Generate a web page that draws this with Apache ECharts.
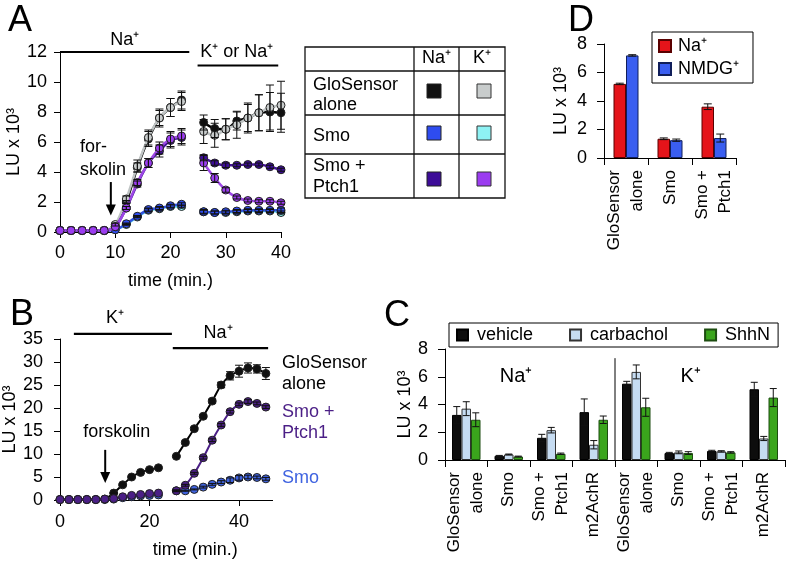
<!DOCTYPE html>
<html><head><meta charset="utf-8">
<script src="https://cdn.jsdelivr.net/npm/echarts@6/dist/echarts.min.js"></script>
<style>html,body{margin:0;padding:0;background:#fff}#c{width:796px;height:562px}</style>
</head><body><div id="c"></div>
<script>
// ---------- Panel A data ----------
const aTime1 = [0,2,4,6,8,10,12,14,16,18,20,22];
const aTime2 = [26,28,30,32,34,36,38,40];
const aGloNa1 = [0.1,0.1,0.1,0.1,0.1,0.4,2.0,4.3,6.2,7.6,8.3,8.8];
const aGloNa2 = [7.3,6.9,6.85,7.4,7.6,7.95,8.0,7.95];
const aGloNaErr1 = [0,0,0,0,0,0,0.1,0.3,0.5,0.5,0.6,0.6];
const aGloNaErr2 = [0.5,0.6,0.7,0.6,0.9,1.2,1.3,1.3];
const aGloK1 = [0.1,0.1,0.1,0.1,0.1,0.5,2.2,4.4,6.3,7.6,8.3,8.7];
const aGloK2 = [6.7,6.45,6.85,7.15,7.6,7.95,8.3,8.45];
const aGloKErr1 = [0,0,0,0,0,0.1,0.2,0.4,0.5,0.6,0.6,0.6];
const aGloKErr2 = [0.8,0.8,0.7,0.9,1.0,1.2,1.5,1.6];
const aSmoNa1 = [0.1,0.1,0.1,0.1,0.1,0.15,0.55,1.05,1.5,1.6,1.75,1.85];
const aSmoNa2 = [1.35,1.3,1.35,1.4,1.45,1.45,1.45,1.45];
const aSmoNaErr1 = [0,0,0,0,0,0,0.05,0.05,0.1,0.1,0.1,0.1];
const aSmoNaErr2 = [0.15,0.1,0.1,0.1,0.1,0.1,0.1,0.15];
const aSmoK1 = [0.1,0.1,0.1,0.1,0.1,0.15,0.5,1.0,1.45,1.55,1.7,1.7];
const aSmoK2 = [1.35,1.3,1.3,1.35,1.4,1.4,1.4,1.3];
const aSmoKErr1 = [0,0,0,0,0,0,0.05,0.05,0.1,0.1,0.1,0.1];
const aSmoKErr2 = [0.1,0.1,0.1,0.1,0.1,0.1,0.1,0.1];
const aPtcNa1 = [0.1,0.1,0.1,0.1,0.1,0.35,1.6,3.2,4.6,5.4,6.1,6.3];
const aPtcNa2 = [4.95,4.6,4.45,4.45,4.5,4.5,4.35,4.15];
const aPtcNaErr1 = [0,0,0,0,0,0,0.1,0.2,0.3,0.4,0.5,0.5];
const aPtcNaErr2 = [0.2,0.15,0.15,0.1,0.1,0.1,0.1,0.1];
const aPtcK1 = [0.1,0.1,0.1,0.1,0.1,0.35,1.6,3.3,4.6,5.6,6.2,6.4];
const aPtcK2 = [4.6,3.6,2.8,2.3,2.1,2.05,2.05,1.95];
const aPtcKErr1 = [0,0,0,0,0,0,0.1,0.2,0.3,0.4,0.5,0.5];
const aPtcKErr2 = [0.5,0.3,0.15,0.1,0.1,0.1,0.1,0.1];
const aXTicks = [0,10,20,30,40];

// ---------- Panel B data ----------
const bTime1 = [0,2,4,6,8,10,12,14,16,18,20,22];
const bTime2 = [26,28,30,32,34,36,38,40,42,44,46];
const bGlo1 = [0.1,0.1,0.1,0.1,0.1,0.2,1.5,3.3,5.0,6.0,6.6,7.0];
const bGlo2 = [9.5,12.5,15.5,18.2,21.5,25.0,27.0,28.0,28.7,28.5,27.5];
const bGloErr1 = [0,0,0,0,0,0,0.1,0.2,0.2,0.2,0.2,0.2];
const bGloErr2 = [0.2,0.3,0.3,0.3,0.4,0.6,0.9,1.3,1.1,0.9,1.3];
const bPtc1 = [0.1,0.1,0.1,0.1,0.1,0.2,0.3,0.7,1.0,1.2,1.4,1.5];
const bPtc2 = [2.0,3.2,5.8,9.2,13.0,16.3,19.2,20.8,21.4,21.0,20.2];
const bPtcErr2 = [0.2,0.2,0.2,0.3,0.3,0.3,0.3,0.3,0.4,0.3,0.3];
const bSmo1 = [0.1,0.1,0.1,0.1,0.1,0.1,0.2,0.5,0.7,0.9,1.0,1.1];
const bSmo2 = [2.0,2.0,2.3,2.8,3.4,3.9,4.3,4.8,5.0,4.9,4.6];
const bSmoErr2 = [0.1,0.1,0.1,0.2,0.2,0.3,0.5,0.5,0.4,0.3,0.3];

// ---------- Panel C data ----------
const cCategories = ['Na-Glo','Na-Smo','Na-SmoPtch1','Na-m2AchR','K-Glo','K-Smo','K-SmoPtch1','K-m2AchR'];
const cTickLabels = ['GloSensor\nalone','Smo','Smo +\nPtch1','m2AchR','GloSensor\nalone','Smo','Smo +\nPtch1','m2AchR'];
const cVehicle = [3.25,0.3,1.6,3.45,5.5,0.5,0.65,5.1];
const cVehicleErr = [0.6,0.03,0.25,0.95,0.17,0.05,0.05,0.5];
const cCarbachol = [3.7,0.4,2.15,1.1,6.35,0.55,0.62,1.55];
const cCarbacholErr = [0.5,0.03,0.2,0.3,0.5,0.1,0.05,0.15];
const cShhN = [2.9,0.25,0.45,2.9,3.8,0.5,0.55,4.5];
const cShhNErr = [0.5,0.03,0.05,0.27,0.65,0.1,0.05,0.65];

// ---------- Panel D data ----------
const dCategories = ['GloSensor\nalone','Smo','Smo +\nPtch1'];
const dNa = [5.2,1.35,3.6];
const dNaErr = [0.05,0.06,0.2];
const dNmdg = [7.2,1.25,1.4];
const dNmdgErr = [0.05,0.08,0.28];

const FONT = "'Liberation Sans', Arial, Helvetica, sans-serif";
const chart = echarts.init(document.getElementById('c'));

function seg(t1, v1, t2, v2, gap){
  return t1.map((t,i)=>[t, v1[i]]).concat([[gap,'-']]).concat(t2.map((t,i)=>[t, v2[i]]));
}
function errs(t1, v1, e1, t2, v2, e2){
  const out = t1.map((t,i)=>[t, v1[i], e1 ? e1[i] : 0]);
  return out.concat(t2.map((t,i)=>[t, v2[i], e2 ? e2[i] : 0]));
}
function errRender(cap, offset){
  return function(params, api){
    const x = api.value(0), y = api.value(1), e = api.value(2);
    if (!(e > 0)) return null;
    const top = api.coord([x, y + e]), bot = api.coord([x, y - e]);
    const cx = top[0] + offset;
    const st = {stroke:'#111', lineWidth:1};
    return {type:'group', children:[
      {type:'line', shape:{x1:cx, y1:top[1], x2:cx, y2:bot[1]}, style:st},
      {type:'line', shape:{x1:cx-cap, y1:top[1], x2:cx+cap, y2:top[1]}, style:st},
      {type:'line', shape:{x1:cx-cap, y1:bot[1], x2:cx+cap, y2:bot[1]}, style:st}
    ]};
  };
}
function lineSer(name, gi, data, fill, stroke, z, smooth, lw){
  return {name, type:'line', xAxisIndex:gi, yAxisIndex:gi, data, smooth:smooth, symbol:'circle', symbolSize:8,
    showSymbol:true, connectNulls:false, itemStyle:{color:fill, borderColor:'#222', borderWidth:1},
    lineStyle:{color:stroke, width:lw || 2}, z:z};
}
function errSer(gi, data, z, offset, cap){
  return {type:'custom', xAxisIndex:gi, yAxisIndex:gi, data, encode:{x:0, y:1}, z:z, silent:true,
    renderItem: errRender(cap, offset)};
}
function valAxis(gi, min, max, interval, extra){
  return Object.assign({type:'value', gridIndex:gi, min, max, interval,
    axisLine:{show:true, lineStyle:{color:'#000', width:1}},
    axisTick:{show:true, length:6, lineStyle:{color:'#000'}},
    splitLine:{show:false},
    axisLabel:{color:'#000', fontSize:18, fontFamily:FONT},
    nameTextStyle:{color:'#000', fontSize:18, fontFamily:FONT}}, extra || {});
}
function catAxis(gi, data, labels, extra){
  return Object.assign({type:'category', gridIndex:gi, data,
    axisLine:{show:true, lineStyle:{color:'#000', width:1}},
    axisTick:{show:true, length:7, lineStyle:{color:'#000'}},
    axisLabel:{color:'#000', fontSize:17, fontFamily:FONT, rotate:90, interval:0, margin:12, lineHeight:23,
      formatter:(v, i)=>labels[i]}}, extra || {});
}

const colors = {
  gloNa:'#111111', gloK:'#c8cccc', gloKLine:'#bfc4c4',
  smoNa:'#2e4cf0', smoNaLine:'#3052e0', smoK:'#8ef2f4', smoKLine:'#5ed2e6',
  ptcNa:'#3d0c98', ptcNaLine:'#441299', ptcK:'#9b3cf0', ptcKLine:'#9e48e6',
  bPtc:'#4b1f86', bSmo:'#3f63e0'
};

const series = [
  // Panel A
  lineSer('A Smo K', 0, seg(aTime1, aSmoK1, aTime2, aSmoK2, 24), colors.smoK, colors.smoKLine, 2, 0.3, 2.5),
  lineSer('A Smo Na', 0, seg(aTime1, aSmoNa1, aTime2, aSmoNa2, 24), colors.smoNa, colors.smoNaLine, 3, 0.3, 2.5),
  lineSer('A Glo Na', 0, seg(aTime1, aGloNa1, aTime2, aGloNa2, 24), colors.gloNa, '#000', 4, 0.3, 2.5),
  lineSer('A Glo K', 0, seg(aTime1, aGloK1, aTime2, aGloK2, 24), colors.gloK, colors.gloKLine, 5, 0.3, 2.5),
  lineSer('A Ptc Na', 0, seg(aTime1, aPtcNa1, aTime2, aPtcNa2, 24), colors.ptcNa, colors.ptcNaLine, 6, 0.3, 2.5),
  lineSer('A Ptc K', 0, seg(aTime1, aPtcK1, aTime2, aPtcK2, 24), colors.ptcK, colors.ptcKLine, 7, 0.3, 2.5),
  errSer(0, errs(aTime1, aSmoK1, aSmoKErr1, aTime2, aSmoK2, aSmoKErr2), 8, 0, 4),
  errSer(0, errs(aTime1, aSmoNa1, aSmoNaErr1, aTime2, aSmoNa2, aSmoNaErr2), 8, 0, 4),
  errSer(0, errs(aTime1, aGloNa1, aGloNaErr1, aTime2, aGloNa2, aGloNaErr2), 8, 0, 4),
  errSer(0, errs(aTime1, aGloK1, aGloKErr1, aTime2, aGloK2, aGloKErr2), 8, 0, 4),
  errSer(0, errs(aTime1, aPtcNa1, aPtcNaErr1, aTime2, aPtcNa2, aPtcNaErr2), 8, 0, 4),
  errSer(0, errs(aTime1, aPtcK1, aPtcKErr1, aTime2, aPtcK2, aPtcKErr2), 8, 0, 4),
  // Panel B
  lineSer('B Smo', 1, seg(bTime1, bSmo1, bTime2, bSmo2, 24), colors.bSmo, colors.bSmo, 2, 0.2, 2),
  lineSer('B Glo', 1, seg(bTime1, bGlo1, bTime2, bGlo2, 24), '#111', '#000', 3, 0.2, 2),
  lineSer('B Ptc', 1, seg(bTime1, bPtc1, bTime2, bPtc2, 24), colors.bPtc, colors.bPtc, 4, 0.2, 2),
  errSer(1, errs(bTime1, bGlo1, bGloErr1, bTime2, bGlo2, bGloErr2), 8, 0, 4),
  errSer(1, errs(bTime1, bPtc1, null, bTime2, bPtc2, bPtcErr2), 8, 0, 4),
  errSer(1, errs(bTime1, bSmo1, null, bTime2, bSmo2, bSmoErr2), 8, 0, 4),
  // Panel C
  {name:'vehicle', type:'bar', xAxisIndex:2, yAxisIndex:2, data:cVehicle, barWidth:9.5, barGap:'0%',
    itemStyle:{color:'#0d0d0d', borderColor:'#000', borderWidth:1}},
  {name:'carbachol', type:'bar', xAxisIndex:2, yAxisIndex:2, data:cCarbachol, barWidth:9.5, barGap:'0%',
    itemStyle:{color:'#c6dcf2', borderColor:'#333', borderWidth:1}},
  {name:'ShhN', type:'bar', xAxisIndex:2, yAxisIndex:2, data:cShhN, barWidth:9.5, barGap:'0%',
    itemStyle:{color:'#3aa51c', borderColor:'#1d4d10', borderWidth:1}},
  errSer(2, cVehicle.map((v,i)=>[i, v, cVehicleErr[i]]), 10, -9.5, 3.5),
  errSer(2, cCarbachol.map((v,i)=>[i, v, cCarbacholErr[i]]), 10, 0, 3.5),
  errSer(2, cShhN.map((v,i)=>[i, v, cShhNErr[i]]), 10, 9.5, 3.5),
  // Panel D
  {name:'Na⁺', type:'bar', xAxisIndex:3, yAxisIndex:3, data:dNa, barWidth:12.5, barGap:'0%',
    itemStyle:{color:'#e5141a', borderColor:'#5a0000', borderWidth:1}},
  {name:'NMDG⁺', type:'bar', xAxisIndex:3, yAxisIndex:3, data:dNmdg, barWidth:12.5, barGap:'0%',
    itemStyle:{color:'#3a5ef0', borderColor:'#101e5a', borderWidth:1}},
  errSer(3, dNa.map((v,i)=>[i, v, dNaErr[i]]), 10, -6.25, 4),
  errSer(3, dNmdg.map((v,i)=>[i, v, dNmdgErr[i]]), 10, 6.25, 4)
];

const option = {
  animation:false,
  backgroundColor:'#fff',
  textStyle:{fontFamily:FONT, color:'#000'},
  grid:[
    {left:60, top:52, width:221, height:180},
    {left:60, top:339, width:212.6, height:161},
    {left:445, top:349, width:340, height:111},
    {left:604, top:44, width:132, height:114}
  ],
  xAxis:[
    valAxis(0, 0, 40, 10, {name:'time (min.)', nameLocation:'middle', nameGap:40,
      axisLabel:{color:'#000', fontSize:18, fontFamily:FONT, margin:12, formatter:(v)=>aXTicks.indexOf(v)>=0 ? String(v) : ''}}),
    valAxis(1, 0, 47.5, 20, {name:'time (min.)', nameLocation:'middle', nameGap:41,
      nameTextStyle:{color:'#000', fontSize:18, fontFamily:FONT, padding:[0,0,0,58]},
      axisLabel:{color:'#000', fontSize:18, fontFamily:FONT, margin:13, showMaxLabel:false}}),
    catAxis(2, cCategories, cTickLabels),
    catAxis(3, dCategories, dCategories)
  ],
  yAxis:[
    valAxis(0, 0, 12, 2, {name:'LU x 10³', nameLocation:'middle', nameRotate:90, nameGap:33,
      axisLabel:{color:'#000', fontSize:18, fontFamily:FONT, margin:13}}),
    valAxis(1, 0, 35, 5, {name:'LU x 10³', nameLocation:'middle', nameRotate:90, nameGap:38,
      axisLabel:{color:'#000', fontSize:18, fontFamily:FONT, margin:17}}),
    valAxis(2, 0, 8, 2, {name:'LU x 10³', nameLocation:'middle', nameRotate:90, nameGap:30,
      axisTick:{show:true, length:7, lineStyle:{color:'#000'}},
      axisLabel:{color:'#000', fontSize:18, fontFamily:FONT, margin:17}}),
    valAxis(3, 0, 8, 2, {name:'LU x 10³', nameLocation:'middle', nameRotate:90, nameGap:34,
      axisTick:{show:true, length:7, lineStyle:{color:'#000'}},
      axisLabel:{color:'#000', fontSize:18, fontFamily:FONT, margin:17}})
  ],
  legend:[
    {data:['vehicle','carbachol','ShhN'], left:449, top:323, orient:'horizontal', itemGap:36, icon:'rect',
      itemWidth:11, itemHeight:11, padding:[3,8,3,7], borderColor:'#000', borderWidth:1,
      selectedMode:false, textStyle:{fontSize:18, color:'#000', fontFamily:FONT, padding:[0,0,0,4]}},
    {data:['Na⁺','NMDG⁺'], left:652, top:32, orient:'vertical', itemGap:5, icon:'rect',
      itemWidth:12, itemHeight:12, padding:[5,14,5,6], borderColor:'#000', borderWidth:1,
      selectedMode:false, textStyle:{fontSize:18, color:'#000', fontFamily:FONT, padding:[0,0,0,2]}}
  ],
  series
};
chart.setOption(option);

// ---------- annotations positioned from data coordinates ----------
function px(gi, x, y){ return chart.convertToPixel({gridIndex:gi}, [x, y]); }
function hbar(gi, x1, x2, y){
  const a = px(gi, x1, y), b = px(gi, x2, y);
  return {type:'line', shape:{x1:a[0], y1:a[1], x2:b[0], y2:b[1]}, style:{stroke:'#000', lineWidth:2.2}, z:50};
}
function txt(p, text, opts){
  return Object.assign({type:'text', x:p[0], y:p[1], z:50,
    style:Object.assign({text, fill:'#000', font:'18px ' + FONT, align:'center', verticalAlign:'middle'}, opts || {})});
}
function arrowDown(gi, x, y1, y2){
  const a = px(gi, x, y1), b = px(gi, x, y2);
  return [
    {type:'line', shape:{x1:a[0], y1:a[1], x2:b[0], y2:b[1]-8}, style:{stroke:'#000', lineWidth:2}, z:50},
    {type:'polygon', shape:{points:[[b[0]-5, b[1]-11],[b[0]+5, b[1]-11],[b[0], b[1]]]}, style:{fill:'#000'}, z:50}
  ];
}
const g = [];
// Panel letters
g.push(txt([20, 21], 'A', {font:'36px ' + FONT}));
g.push(txt([22, 315], 'B', {font:'36px ' + FONT}));
g.push(txt([397, 316], 'C', {font:'36px ' + FONT}));
g.push(txt([581, 21], 'D', {font:'36px ' + FONT}));
// Panel A annotations
g.push(hbar(0, 0, 23.4, 12));
g.push(hbar(0, 24.9, 39.5, 11.1));
g.push(txt(px(0, 11.7, 12.8), 'Na⁺'));
g.push(txt(px(0, 32.0, 12.0), 'K⁺ or Na⁺'));
g.push(txt(px(0, 3.6, 4.9), 'for-\nskolin', {align:'left', lineHeight:23}));
arrowDown(0, 9.2, 3.33, 1.1).forEach(e=>g.push(e));
// Panel B annotations
g.push(hbar(1, 3.1, 25.0, 36.1));
g.push(hbar(1, 25.2, 46.5, 33.0));
g.push(txt(px(1, 12.3, 39.6), 'K⁺'));
g.push(txt(px(1, 35.3, 36.3), 'Na⁺'));
g.push(txt(px(1, 12.7, 14.8), 'forskolin'));
arrowDown(1, 10.1, 10.9, 3.7).forEach(e=>g.push(e));
g.push(txt(px(1, 49.6, 27.6), 'GloSensor\nalone', {align:'left', lineHeight:21}));
g.push(txt(px(1, 49.6, 16.9), 'Smo +\nPtch1', {align:'left', lineHeight:21, fill:colors.bPtc}));
g.push(txt(px(1, 49.6, 4.8), 'Smo', {align:'left', fill:colors.bSmo}));
// Panel C annotations
(function(){
  const p1 = px(2, 1, 6), p2 = px(2, 2, 6), p3 = px(2, 3, 0), p4 = px(2, 4, 0), top = px(2, 3, 7.34);
  const step = p2[0] - p1[0];
  g.push(txt([p1[0] + step*0.17, p1[1]], 'Na⁺', {font:'20px ' + FONT}));
  const p5 = px(2, 5, 6);
  g.push(txt([p5[0] + step*0.28, p5[1]], 'K⁺', {font:'20px ' + FONT}));
  const sx = (p3[0] + p4[0]) / 2;
  g.push({type:'line', shape:{x1:sx, y1:p3[1], x2:sx, y2:top[1]}, style:{stroke:'#000', lineWidth:1}, z:50});
})();
// Legend table for panel A (layout in pixels)
(function(){
  const L = 305, R = 505, T = 47, B = 198;
  const cols = [414, 459], rows = [71, 115, 154];
  const st = {stroke:'#111', lineWidth:1.3};
  g.push({type:'rect', shape:{x:L, y:T, width:R-L, height:B-T}, style:{fill:'none', stroke:'#111', lineWidth:1.3}, z:50});
  cols.forEach(c=>g.push({type:'line', shape:{x1:c, y1:T, x2:c, y2:B}, style:st, z:50}));
  rows.forEach(r=>g.push({type:'line', shape:{x1:L, y1:r, x2:R, y2:r}, style:st, z:50}));
  g.push(txt([436.5, 58], 'Na⁺'));
  g.push(txt([482, 58], 'K⁺'));
  g.push(txt([313, 95], 'GloSensor\nalone', {align:'left', lineHeight:20}));
  g.push(txt([313, 136], 'Smo', {align:'left'}));
  g.push(txt([313, 176.5], 'Smo +\nPtch1', {align:'left', lineHeight:21}));
  const sq = [[colors.gloNa, colors.gloK, 91],[colors.smoNa, colors.smoK, 133],[colors.ptcNa, colors.ptcK, 179]];
  sq.forEach(r=>{
    g.push({type:'rect', shape:{x:434-7, y:r[2]-7, width:14, height:14}, style:{fill:r[0], stroke:'#222', lineWidth:1}, z:50});
    g.push({type:'rect', shape:{x:484-7, y:r[2]-7, width:14, height:14}, style:{fill:r[1], stroke:'#333', lineWidth:1}, z:50});
  });
})();
chart.setOption({graphic:g});
</script>
</body></html>
